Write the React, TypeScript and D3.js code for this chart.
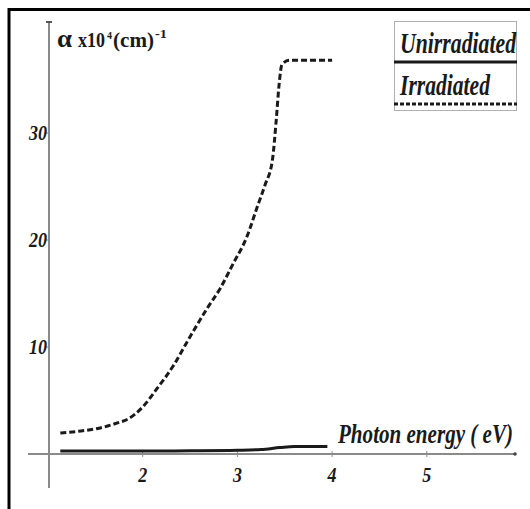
import React from "react";
import * as d3 from "d3";

// Photon energy (eV) and absorption coefficient (x10^4 cm^-1)
const irrEnergy = [1.13, 1.35, 1.55, 1.75, 1.83, 2.0, 2.15, 2.32, 2.47, 2.68, 2.82, 2.95, 3.1, 3.21, 3.29, 3.37, 3.41, 3.44, 3.47, 3.55, 4.0];
const irrAlpha = [1.96, 2.15, 2.43, 2.95, 3.2, 4.4, 6.1, 8.2, 10.5, 13.6, 15.5, 17.7, 20.3, 23.1, 25.1, 27.5, 31.2, 34.5, 36.4, 36.8, 36.8];
const unEnergy = [1.13, 1.5, 2.0, 2.5, 3.0, 3.25, 3.45, 3.6, 3.95];
const unAlpha = [0.28, 0.28, 0.28, 0.3, 0.35, 0.42, 0.6, 0.7, 0.7];
const xTicks = [2, 3, 4, 5];
const yTicks = [10, 20, 30];
const legendLabels = ["Unirradiated", "Irradiated"];

const FONT = "'Liberation Serif', 'Times New Roman', serif";

export default function App() {
  const x = d3.scaleLinear().domain([1, 6]).range([48, 521.5]);
  const y = d3.scaleLinear().domain([0, 30]).range([454, 133]);

  const line = d3
    .line<[number, number]>()
    .x((d) => x(d[0]))
    .y((d) => y(d[1]))
    .curve(d3.curveMonotoneX);

  const irr: [number, number][] = irrEnergy.map((e, i) => [e, irrAlpha[i]]);
  const un: [number, number][] = unEnergy.map((e, i) => [e, unAlpha[i]]);

  const axisColor = "#8a8a8a";
  const ink = "#1a1a1a";
  const y0 = y(0);

  return (
    <div
      style={{
        position: "fixed",
        left: 0,
        top: 0,
        width: 530,
        height: 509,
        overflow: "hidden",
        background: "#fff",
      }}
    >
      <style>{"html,body{margin:0;padding:0;overflow:hidden;}"}</style>
      <svg width={530} height={509} style={{ display: "block" }}>
        {/* outer frame: left and top edges */}
        <path d="M9,509 V9.5 H530" fill="none" stroke="#000" strokeWidth={3} />

        {/* axes */}
        <line x1={49} x2={49} y1={22} y2={488} stroke={axisColor} strokeWidth={2} />
        <line x1={46} x2={52} y1={22} y2={22} stroke="#555" strokeWidth={2} />
        <line x1={28} x2={515} y1={y0} y2={y0} stroke={axisColor} strokeWidth={2} />
        <circle cx={515} cy={y0} r={1.8} fill="#444" />

        {xTicks.map((t) => (
          <g key={`xt${t}`}>
            <line x1={x(t)} x2={x(t)} y1={y0 - 3} y2={y0 + 3} stroke={axisColor} strokeWidth={1} />
            <text
              x={x(t)}
              y={482}
              textAnchor="middle"
              fontFamily={FONT}
              fontWeight="bold"
              fontStyle="italic"
              fontSize={21}
              fill={ink}
              textLength={9}
              lengthAdjust="spacingAndGlyphs"
            >
              {t}
            </text>
          </g>
        ))}

        {yTicks.map((t) => (
          <g key={`yt${t}`}>
            <line x1={45} x2={49} y1={y(t)} y2={y(t)} stroke={axisColor} strokeWidth={1} />
            <text
              x={29}
              y={y(t) + 7}
              fontFamily={FONT}
              fontWeight="bold"
              fontStyle="italic"
              fontSize={20}
              fill={ink}
              textLength={18}
              lengthAdjust="spacingAndGlyphs"
            >
              {t}
            </text>
          </g>
        ))}

        {/* y-axis title */}
        <text x={57} y={47} fontFamily={FONT} fontWeight="bold" fontSize={22} fill={ink}>
          <tspan fontSize={26} textLength={15} lengthAdjust="spacingAndGlyphs">α</tspan>
          <tspan x={78} textLength={27} lengthAdjust="spacingAndGlyphs">x10</tspan>
          <tspan x={107} dy={-8} fontSize={10}>4</tspan>
          <tspan x={113} dy={8} textLength={41} lengthAdjust="spacingAndGlyphs">(cm)</tspan>
          <tspan x={155} dy={-9} fontSize={13} textLength={12} lengthAdjust="spacingAndGlyphs">-1</tspan>
        </text>

        {/* x-axis title */}
        <text
          x={338}
          y={443}
          fontFamily={FONT}
          fontWeight="bold"
          fontStyle="italic"
          fontSize={27}
          fill={ink}
          textLength={175}
          lengthAdjust="spacingAndGlyphs"
        >
          Photon energy ( eV)
        </text>

        {/* curves */}
        <path d={line(un) ?? ""} fill="none" stroke={ink} strokeWidth={3} />
        <path
          d={line(irr) ?? ""}
          fill="none"
          stroke={ink}
          strokeWidth={3}
          strokeDasharray="6,3"
        />

        {/* legend */}
        <rect x={394.5} y={21.5} width={122} height={89} fill="#fff" stroke="#b0b0b0" strokeWidth={1} />
        <text
          x={400}
          y={53}
          fontFamily={FONT}
          fontWeight="bold"
          fontStyle="italic"
          fontSize={29}
          fill={ink}
          textLength={116}
          lengthAdjust="spacingAndGlyphs"
        >
          {legendLabels[0]}
        </text>
        <line x1={394} x2={517} y1={62} y2={62} stroke={ink} strokeWidth={3} />
        <text
          x={400}
          y={95}
          fontFamily={FONT}
          fontWeight="bold"
          fontStyle="italic"
          fontSize={29}
          fill={ink}
          textLength={90}
          lengthAdjust="spacingAndGlyphs"
        >
          {legendLabels[1]}
        </text>
        <line x1={394} x2={517} y1={104} y2={104} stroke={ink} strokeWidth={3} strokeDasharray="4,2" />
      </svg>
    </div>
  );
}
